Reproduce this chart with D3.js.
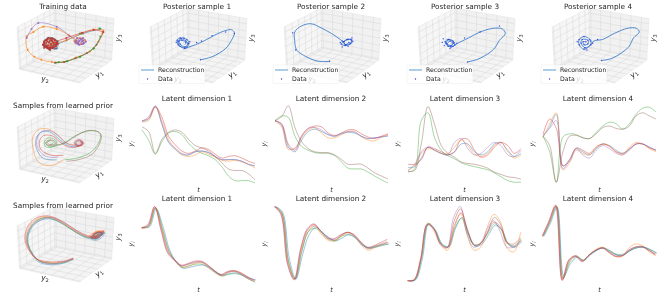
<!DOCTYPE html>
<html>
<head>
<meta charset="utf-8">
<script src="https://d3js.org/d3.v7.min.js"></script>
<style>
  html, body { margin: 0; padding: 0; background: #fff; }
  svg { display: block; filter: blur(0.35px); }
  text { font-family: "DejaVu Sans", sans-serif; fill: #262626; }
</style>
</head>
<body>
<script>
// series colours, same order everywhere
var colors = ["#1f77b4", "#ff7f0e", "#2ca02c", "#d62728", "#9467bd", "#8c564b"];

var gridTicks = [0.03, 0.2, 0.37, 0.54, 0.71, 0.88];

// latent dimension curves, prior with two clusters (row 2)
var twoClusterDim1 = [
  [79,82,98,75,52,43,37,36,40,41,39,34,30,30,30,28,24,22],
  [78,80,97,79,56,44,36,34,36,40,37,33,29,28,29,27,24,19],
  [68,55,37,53,64,66,62,51,43,38,35,30,21,9,3,3,3,0],
  [80,83,98,84,60,49,41,38,41,45,43,37,32,34,35,32,28,25],
  [79,85,99,76,53,45,38,36,40,41,39,34,30,30,30,28,24,22],
  [72,66,38,56,65,68,65,56,48,45,41,34,26,18,16,16,12,4]
];
var twoClusterDim2 = [
  [80,75,47,40,55,66,69,66,62,60,63,65,64,60,57,58,59,60],
  [79,72,43,45,58,68,71,64,58,58,62,66,66,59,55,54,59,62],
  [80,86,84,60,47,42,39,38,38,35,27,19,18,18,14,9,4,0],
  [80,76,50,42,60,70,73,72,64,61,64,68,68,63,59,57,60,63],
  [80,74,45,44,60,70,71,68,62,60,64,66,65,60,57,58,59,61],
  [80,85,99,71,53,44,40,39,39,36,30,24,24,24,19,13,9,5]
];
var twoClusterDim3 = [
  [20,21,32,46,42,38,36,40,50,50,40,36,40,50,52,42,34,38],
  [16,22,38,44,42,38,38,46,55,48,37,34,38,48,52,40,32,36],
  [14,18,80,90,58,42,35,31,26,23,21,19,17,13,8,3,1,1],
  [24,24,30,46,44,40,36,40,56,56,42,33,36,46,52,48,38,44],
  [16,24,40,46,42,38,36,52,57,44,36,38,46,52,48,36,34,42],
  [15,16,50,98,75,48,38,33,27,25,24,22,19,14,11,8,7,5]
];
var twoClusterDim4 = [
  [60,72,88,22,28,44,40,36,44,50,48,42,38,43,50,50,46,42],
  [58,76,90,17,26,42,38,36,46,50,47,40,36,46,52,50,44,40],
  [60,40,1,59,63,62,58,57,65,73,78,76,69,76,88,96,97,91],
  [62,82,70,22,30,45,42,38,46,50,47,40,38,44,50,50,45,42],
  [60,70,80,18,30,44,36,32,42,48,44,38,36,42,50,50,46,42],
  [60,48,1,40,60,61,58,57,63,71,73,70,69,73,86,90,86,82]
];

// latent dimension curves, prior with one cluster (row 3)
var oneClusterDim1 = [
  [71,72,95,73,43,27,19,20,22,23,20,14,10,12,13,10,6,4],
  [70,73,97,69,40,28,21,21,25,26,21,14,9,13,15,12,6,2],
  [71,73,97,71,42,28,20,22,24,24,19,13,9,11,12,10,5,1],
  [71,74,98,68,39,30,23,25,28,28,23,16,11,15,16,13,8,4],
  [71,75,98,67,38,29,22,24,27,27,22,15,10,14,15,11,6,2],
  [70,73,96,70,41,29,22,24,26,27,22,15,10,14,15,12,7,3]
];
var oneClusterDim2 = [
  [98,91,32,5,36,62,71,65,58,54,58,62,58,50,45,46,48,50],
  [98,89,26,6,43,68,74,63,55,54,60,64,61,49,42,45,49,52],
  [98,90,28,5,40,66,70,64,56,54,60,62,58,49,45,47,49,50],
  [98,89,25,4,44,69,75,66,57,57,62,65,62,53,46,48,52,56],
  [98,88,24,5,45,70,76,67,59,56,61,65,61,51,45,47,50,53],
  [98,90,28,5,41,66,73,66,58,55,61,65,60,51,44,46,49,52]
];
var oneClusterDim3 = [
  [3,4,30,76,68,50,46,70,84,62,47,50,62,74,68,50,46,54],
  [3,5,34,77,66,48,42,70,89,60,42,46,72,88,78,44,40,65],
  [3,4,32,76,68,50,47,70,83,62,48,52,64,76,68,50,48,57],
  [3,4,30,75,69,50,45,78,95,70,50,50,64,78,72,52,50,58],
  [3,3,28,74,70,50,45,84,98,64,46,50,68,80,66,46,46,54],
  [3,4,32,76,68,50,46,74,90,66,48,52,66,84,74,50,46,55]
];
var oneClusterDim4 = [
  [60,77,97,9,25,33,29,36,42,45,41,36,36,42,45,46,43,38],
  [60,78,99,5,28,34,28,36,43,46,40,34,34,45,50,48,40,35],
  [60,78,98,6,27,34,29,37,42,45,41,37,37,41,45,46,43,39],
  [60,79,100,3,30,35,28,36,42,45,39,34,35,42,46,47,42,36],
  [60,79,98,4,29,34,27,35,41,45,40,35,35,42,46,46,42,37],
  [60,78,99,5,29,35,29,36,42,45,40,36,35,41,46,46,42,37]
];

// row 3 samples differ by a small lag in t, per series
var oneClusterLag = [0.14, -0.06, 0.04, -0.1, -0.14, 0];

var trainingTraj = [
  [[86,72],[68,66],[51,57],[41,51],[34,45],[29,48],[29,57],[36,60],[42,55],[41,46],[32,47]],
  [[59,56],[65,60],[70,57],[66,52],[61,53],[63,55],[53,64],[41,72],[27,75],[17,68],[10,62],[11,44],[18,35],[25,31],[36,28],[48,28],[61,34],[75,42],[84,55],[88,66],[89,70],[79,71],[67,66],[51,57],[41,53],[34,51]],
  [[86,62],[79,46],[65,35],[51,29],[40,27]],
  [[89,68],[79,71],[67,67],[51,60],[39,54],[33,46],[28,49],[28,55],[33,60],[39,58],[42,52],[37,47],[31,48],[28,53],[31,58],[37,59],[41,54],[38,48],[32,46],[27,51],[30,57],[36,57],[40,51],[35,47],[30,50],[31,55],[36,56],[38,51],[34,49]],
  [[61,56],[54,63],[41,75],[22,80],[15,72],[10,60]],
  [[89,68],[82,51],[72,40],[60,33],[49,28],[39,27]]
];
var trainingRightLoop = [[61,56],[68,60],[71,55],[64,51],[60,54],[62,60],[68,57],[68,52],[62,53],[64,56],[67,55],[63,53],[66,58],[69,53]];
var trainingLeftDots = [[30,48],[33,46],[37,47],[40,49],[41,53],[39,57],[35,59],[31,58],[28,55],[27,51],[32,50],[35,52],[37,54],[33,54],[30,53],[36,49],[38,51],[34,56],[29,50],[41,56],[37,59],[32,60],[28,47],[34,44],[39,46]];
var trainingExtraGreen = [[85,73],[65,66],[79,46],[65,35],[52,29],[43,28]];

var posteriorPaths = [
  [[52,31],[64,35],[78,46],[84,57],[87,67],[84,71],[78,70],[67,64],[57,57],[47,51],[40,48],[36,46],[29,51],[28,57],[31,60],[38,58],[40,53],[38,48],[31,49],[29,55],[32,59],[37,56],[39,52],[36,48],[31,52],[30,56],[33,57],[37,54],[36,51]],
  [[47,29],[35,29],[23,35],[13,44],[11,57],[11,68],[18,76],[28,79],[39,73],[49,66],[59,57],[64,51],[69,53],[69,58],[65,58],[61,55],[59,52],[63,50],[68,52],[70,57],[66,58],[62,55],[63,51],[67,54]],
  [[51,28],[64,33],[78,45],[84,57],[90,66],[87,72],[78,73],[64,68],[52,60],[41,53],[36,49],[31,49],[28,55],[31,58],[36,56],[38,51],[34,48],[29,53],[32,58],[37,54],[34,50],[30,52],[33,56],[36,53]],
  [[51,30],[62,33],[79,48],[84,60],[90,68],[87,73],[78,73],[64,66],[52,58],[43,56],[40,51],[33,45],[28,51],[28,58],[33,62],[39,58],[40,51],[34,47],[30,53],[31,58],[37,57],[37,52],[33,51],[32,55],[35,55]]
];
var posteriorDots = [
  [[52,31],[53,56],[48,54],[64,63],[78,68],[87,66],[36,46],[29,51],[28,57],[31,60],[38,58],[40,53],[38,48],[31,49],[29,55],[32,59],[37,56],[39,52],[36,48],[31,52],[30,56],[33,57],[37,54],[35,60],[27,54],[41,55]],
  [[9,67],[12,44],[60,48],[70,60],[47,29],[64,51],[69,53],[69,58],[65,58],[61,55],[59,52],[63,50],[68,52],[70,57],[66,58],[62,55],[63,51],[67,54],[60,56],[71,55],[58,54],[66,49]],
  [[48,60],[64,68],[84,76],[51,28],[26,59],[27,50],[36,49],[31,49],[28,55],[31,58],[36,56],[38,51],[34,48],[29,53],[32,58],[37,54],[34,50],[30,52],[33,56],[36,53],[40,53],[33,46],[25,54]],
  [[47,58],[40,56],[33,62],[51,30],[40,51],[33,45],[28,51],[28,58],[39,58],[34,47],[30,53],[31,58],[37,57],[37,52],[33,51],[32,55],[35,55],[26,55],[42,53],[36,44]]
];

var twoClusterTraj = [
  [[41,31],[27,33],[20,46],[20,60],[25,68],[34,68],[42,60],[51,51],[60,48],[67,52],[64,56],[61,53],[63,49],[67,53]],
  [[48,31],[34,23],[22,28],[17,44],[16,60],[22,71],[32,72],[42,64],[51,53],[60,51],[67,55],[68,51],[62,49],[60,54],[64,57],[68,54],[64,50],[61,53]],
  [[49,31],[61,33],[75,40],[84,53],[86,65],[82,69],[72,69],[60,63],[48,53],[39,49],[30,48],[28,54],[32,60],[39,58],[41,52],[34,48],[30,53],[34,57],[38,54],[34,51]],
  [[48,37],[36,37],[25,44],[23,55],[27,63],[36,63],[44,55],[53,48],[60,48],[66,51],[68,55],[64,58],[59,54],[61,50],[66,50],[69,53],[65,56]],
  [[42,34],[29,36],[21,48],[21,60],[26,69],[36,69],[44,61],[53,52],[60,50],[67,54],[65,57],[60,54],[62,50],[68,52],[65,55]],
  [[51,29],[63,31],[77,38],[85,52],[87,63],[84,68],[73,70],[60,62],[49,53],[41,51],[33,50],[29,53],[32,57],[37,57],[40,53],[34,51],[31,54],[34,56]]
];

var oneClusterTraj = [
  [[58,30],[48,25],[34,23],[22,27],[14,41],[11,56],[15,72],[24,82],[35,84],[49,76],[62,65],[74,58],[81,58],[88,63],[91,65],[85,64],[79,61],[77,57],[83,56],[89,62],[85,64],[80,60],[81,57],[86,60]],
  [[58,31],[48,27],[33,26],[21,30],[12,44],[9,59],[13,75],[22,85],[33,87],[47,79],[60,68],[72,61],[79,61],[86,66],[90,68],[83,68],[77,64],[74,60],[81,58],[88,65],[83,68],[78,63],[79,60],[84,63]],
  [[58,31],[48,26],[34,25],[22,29],[14,43],[11,58],[15,74],[24,84],[34,85],[48,77],[61,66],[73,59],[80,60],[87,64],[90,66],[84,66],[78,62],[76,59],[82,58],[88,64],[84,66],[79,62],[80,59],[85,62]],
  [[58,32],[48,28],[34,27],[20,31],[11,45],[8,59],[12,76],[21,86],[33,88],[48,80],[61,69],[73,62],[80,61],[87,66],[90,68],[84,67],[78,64],[76,60],[82,59],[88,65],[84,67],[79,63],[80,60],[85,63]],
  [[58,31],[48,27],[35,24],[23,28],[14,42],[10,57],[14,73],[25,83],[36,86],[50,78],[63,67],[74,60],[81,60],[88,64],[89,66],[84,65],[78,62],[76,59],[82,58],[88,64],[84,66],[79,62],[80,59],[85,62]],
  [[58,31],[48,26],[34,25],[22,29],[13,43],[10,58],[14,74],[23,84],[34,86],[48,78],[61,67],[73,60],[80,60],[87,64],[90,66],[84,66],[78,62],[76,59],[82,58],[88,64],[84,66],[79,62],[80,59],[85,62]]
];

var latentTitles = ["Latent dimension 1", "Latent dimension 2", "Latent dimension 3", "Latent dimension 4"];
var posteriorTitles = ["Posterior sample 1", "Posterior sample 2", "Posterior sample 3", "Posterior sample 4"];
var legendLabels = ["Reconstruction", "Data"];

var width = 660, height = 295;

var svg = d3.select("body").append("svg")
  .attr("width", width)
  .attr("height", height);

var boxW = 97, boxH = 75;

// perspective of the default 3d view, elevation 30 azimuth -60
function project(p) {
  var el = 30 * Math.PI / 180, az = -60 * Math.PI / 180, dist = 10;
  var x = p[0] - 0.5, y = p[1] - 0.5, z = p[2] - 0.5;
  var right = x * -Math.sin(az) + y * Math.cos(az);
  var fwd = x * Math.cos(az) * Math.cos(el) + y * Math.sin(az) * Math.cos(el) + z * Math.sin(el);
  var up = -x * Math.cos(az) * Math.sin(el) - y * Math.sin(az) * Math.sin(el) + z * Math.cos(el);
  var depth = dist - fwd;
  return [right / depth, up / depth];
}

var cube = [[0,0,0],[1,0,0],[1,1,0],[0,1,0],[0,0,1],[0,1,1],[1,1,1]].map(project);
var pxScale = d3.scaleLinear().domain(d3.extent(cube, function (d) { return d[0]; })).range([0, boxW]);
var pyScale = d3.scaleLinear().domain(d3.extent(cube, function (d) { return d[1]; })).range([boxH, 0]);

function cubePoint(p) {
  var q = project(p);
  return [pxScale(q[0]), pyScale(q[1])];
}

function mathLabel(g, x, y, sub, rotate) {
  var t = g.append("text")
    .attr("transform", "translate(" + x + "," + y + ") rotate(" + rotate + ")")
    .attr("text-anchor", "middle")
    .attr("dy", "0.3em")
    .style("font-size", "7.5px")
    .style("font-style", "italic");
  t.append("tspan").text("y");
  t.append("tspan").attr("dy", "1.5").style("font-size", "5.2px").style("font-style", "normal").text(sub);
}

function draw3dBox(g) {
  var line = d3.line();
  var panes = [
    { pts: [[0,0,0],[0,1,0],[0,1,1],[0,0,1]], fill: "#f6f6f6" },
    { pts: [[0,1,0],[1,1,0],[1,1,1],[0,1,1]], fill: "#f1f1f1" },
    { pts: [[0,0,0],[1,0,0],[1,1,0],[0,1,0]], fill: "#f4f4f4" }
  ];
  panes.forEach(function (pane) {
    g.append("path")
      .attr("d", line(pane.pts.map(cubePoint)) + "Z")
      .attr("fill", pane.fill)
      .attr("stroke", "#e2e2e2")
      .attr("stroke-width", 0.5);
  });
  gridTicks.forEach(function (t) {
    var segs = [
      [[t,0,0],[t,1,0]], [[t,1,0],[t,1,1]],
      [[0,t,0],[1,t,0]], [[0,t,0],[0,t,1]],
      [[0,0,t],[0,1,t]], [[0,1,t],[1,1,t]]
    ];
    segs.forEach(function (s) {
      g.append("path")
        .attr("d", line(s.map(cubePoint)))
        .attr("fill", "none")
        .attr("stroke", "#d4d4d4")
        .attr("stroke-width", 0.45);
    });
  });
  mathLabel(g, 28, 71, "2", 0);
  mathLabel(g, 82, 66, "1", -40);
  mathLabel(g, 101, 30, "3", -85);
}

var uScale = d3.scaleLinear().domain([0, 100]).range([0, boxW]);
var vScale = d3.scaleLinear().domain([0, 100]).range([boxH, 0]);
var pathLine = d3.line()
  .x(function (d) { return uScale(d[0]); })
  .y(function (d) { return vScale(d[1]); })
  .curve(d3.curveCatmullRom.alpha(0.5));

function drawTraj(g, traj, color, w, op) {
  g.append("path")
    .attr("d", pathLine(traj))
    .attr("fill", "none")
    .attr("stroke", color)
    .attr("stroke-width", w)
    .attr("stroke-opacity", op);
}

function drawDots(g, pts, color, r, op) {
  g.selectAll(null).data(pts).enter().append("circle")
    .attr("cx", function (d) { return uScale(d[0]); })
    .attr("cy", function (d) { return vScale(d[1]); })
    .attr("r", r)
    .attr("fill", color)
    .attr("fill-opacity", op);
}

function panelTitle(x, y, label) {
  svg.append("text")
    .attr("x", x).attr("y", y)
    .attr("text-anchor", "middle")
    .style("font-size", "7.3px")
    .text(label);
}

// left column
var leftX = 17, rowTop = [8, 108, 207];

var g0 = svg.append("g").attr("transform", "translate(" + leftX + "," + rowTop[0] + ")");
draw3dBox(g0);
panelTitle(63, 9, "Training data");
trainingTraj.forEach(function (tr, i) {
  drawTraj(g0, tr, colors[i], 0.8, 0.7);
  drawDots(g0, tr, colors[i], 1, 0.85);
});
drawTraj(g0, trainingRightLoop, colors[4], 0.8, 0.8);
drawDots(g0, trainingRightLoop, colors[4], 1.1, 0.85);
drawDots(g0, trainingExtraGreen, colors[2], 1.1, 0.85);
drawDots(g0, trainingLeftDots, colors[5], 1.2, 0.8);
drawDots(g0, trainingLeftDots.slice(0, 14), colors[3], 1.1, 0.7);

var g1 = svg.append("g").attr("transform", "translate(" + leftX + "," + rowTop[1] + ")");
draw3dBox(g1);
panelTitle(63, 108, "Samples from learned prior");
twoClusterTraj.forEach(function (tr, i) { drawTraj(g1, tr, colors[i], 0.9, 0.5); });

var g2 = svg.append("g").attr("transform", "translate(" + leftX + "," + rowTop[2] + ")");
draw3dBox(g2);
panelTitle(63, 208, "Samples from learned prior");
// brown goes first here, it is mostly covered in the reference
[5, 2, 0, 1, 4, 3].forEach(function (i) { drawTraj(g2, oneClusterTraj[i], colors[i], 0.8, 0.5); });

// posterior samples along the top
var posteriorLeft = [150, 284, 418, 552];
var posteriorCenter = [197, 331, 465, 598];

posteriorPaths.forEach(function (tr, i) {
  var g = svg.append("g").attr("transform", "translate(" + posteriorLeft[i] + "," + rowTop[0] + ")");
  draw3dBox(g);
  drawTraj(g, tr, "#3f7fca", 1, 0.9);
  drawDots(g, posteriorDots[i], "#2a3fe0", 0.7, 0.9);
  panelTitle(posteriorCenter[i], 9, posteriorTitles[i]);

  // legend sits over the box with some transparency
  var lg = g.append("g").attr("transform", "translate(-11,57)");
  lg.append("rect")
    .attr("width", 66).attr("height", 18.5).attr("rx", 1)
    .attr("fill", "#fff").attr("fill-opacity", 0.8)
    .attr("stroke", "#e6e6e6").attr("stroke-width", 0.4);
  lg.append("line")
    .attr("x1", 2).attr("x2", 15).attr("y1", 5).attr("y2", 5)
    .attr("stroke", "#6aa6d6").attr("stroke-width", 1.1);
  lg.append("circle")
    .attr("cx", 8.5).attr("cy", 14).attr("r", 0.7).attr("fill", "#2a3fe0");
  legendLabels.forEach(function (lab, j) {
    lg.append("text")
      .attr("x", 19).attr("y", 5 + j * 9)
      .attr("dy", "0.35em")
      .style("font-size", "6.2px")
      .text(lab);
  });
});

// latent dimension line panels
var latentLeft = [142, 275, 408, 543];
var latentWidth = 113;
var latentCenter = [197, 331, 465, 598];
var latentRows = [
  { top: 105, lag: null, order: [0, 1, 2, 3, 4, 5], panels: [twoClusterDim1, twoClusterDim2, twoClusterDim3, twoClusterDim4] },
  { top: 205, lag: oneClusterLag, order: [5, 2, 0, 1, 4, 3], panels: [oneClusterDim1, oneClusterDim2, oneClusterDim3, oneClusterDim4] }
];
var latentH = 78;

latentRows.forEach(function (row) {
  row.panels.forEach(function (series, i) {
    var tIdx = d3.range(series[0].length);
    var xs = d3.scaleLinear().domain(d3.extent(tIdx)).range([latentLeft[i], latentLeft[i] + latentWidth]);
    var ys = d3.scaleLinear().domain([0, 100]).range([row.top + latentH, row.top]);
    row.order.forEach(function (k) {
      var lag = row.lag ? row.lag[k] : 0;
      var ln = d3.line()
        .x(function (d, j) { return xs(j + lag); })
        .y(function (d) { return ys(d); })
        .curve(d3.curveCatmullRom.alpha(0.5));
      svg.append("path")
        .attr("d", ln(series[k]))
        .attr("fill", "none")
        .attr("stroke", colors[k])
        .attr("stroke-width", 0.85)
        .attr("stroke-opacity", 0.5);
    });
    panelTitle(latentCenter[i], row.top - 4, latentTitles[i]);
    var ly = svg.append("text")
      .attr("transform", "translate(" + (latentLeft[i] - 9) + "," + (row.top + 39) + ") rotate(-90)")
      .attr("text-anchor", "middle")
      .style("font-size", "6.5px")
      .style("font-style", "italic");
    ly.append("tspan").text("y");
    ly.append("tspan").attr("dy", "1.5").style("font-size", "4.8px").text("i");
    svg.append("text")
      .attr("x", xs(8.5)).attr("y", row.top + latentH + 9)
      .attr("text-anchor", "middle")
      .style("font-size", "6.5px")
      .style("font-style", "italic")
      .text("t");
  });
});
</script>
</body>
</html>
